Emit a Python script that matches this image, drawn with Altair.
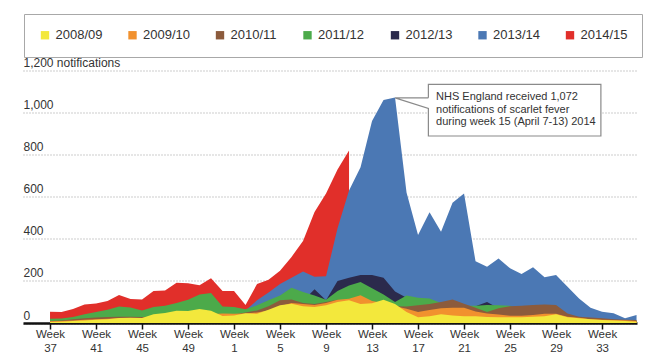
import json
import altair as alt
import pandas as pd

FONT = "Liberation Sans"

seasons = ["2008/09", "2009/10", "2010/11", "2011/12", "2012/13", "2013/14", "2014/15"]
colors = ["#f3e83c", "#f1912e", "#8c5b3c", "#4caa4a", "#2b2a4c", "#4b78b4", "#e12f2a"]
draw_order = ["2014/15", "2013/14", "2012/13", "2011/12", "2010/11", "2009/10", "2008/09"]

# season weeks 37..52, 1..36 (index 0..51)
weeks = list(range(37, 53)) + list(range(1, 37))

s0809 = [5, 6, 10, 12, 15, 18, 24, 25, 24, 42, 47, 58, 57, 66, 58, 33, 36, 46, 44, 63,
         84, 92, 80, 76, 84, 100, 108, 90, 94, 110, 90, 52, 27, 32, 41, 36, 32, 32, 28, 27,
         27, 27, 30, 32, 42, 27, 22, 18, 14, 12, 9, 6]
s0910 = [8, 10, 12, 15, 18, 20, 22, 22, 24, 28, 30, 32, 35, 38, 42, 45, 44, 45, 50, 60,
         80, 95, 90, 85, 95, 110, 115, 132, 105, 95, 80, 68, 52, 62, 70, 72, 72, 55, 45, 40,
         35, 35, 38, 44, 44, 30, 25, 18, 15, 14, 13, 10]
s1011 = [10, 12, 18, 22, 26, 28, 30, 30, 28, 30, 32, 35, 38, 40, 45, 42, 40, 50, 60, 80,
         108, 112, 95, 90, 100, 110, 100, 95, 90, 85, 80, 78, 84, 90, 100, 112, 92, 72, 52, 70,
         80, 82, 86, 88, 86, 45, 30, 26, 22, 18, 16, 14]
s1112 = [20, 21, 28, 42, 52, 63, 78, 74, 60, 76, 82, 95, 111, 136, 143, 78, 76, 65, 84, 108,
         131, 168, 147, 131, 111, 152, 178, 195, 165, 135, 100, 131, 120, 116, 95, 90, 82, 82, 85, 84,
         82, 60, 50, 45, 40, 30, 22, 18, 15, 12, 10, 8]
s1213 = [5, 6, 8, 10, 12, 14, 16, 18, 20, 22, 24, 26, 30, 32, 35, 38, 40, 45, 50, 60,
         75, 90, 105, 160, 108, 200, 215, 228, 228, 215, 150, 120, 95, 85, 80, 75, 75, 80, 100, 70,
         60, 50, 45, 40, 35, 28, 22, 18, 15, 12, 10, 8]
s1314 = [None] * 17 + [60, 108, 145, 185, 215, 245, 220, 222, 450, 630, 740, 960, 1060, 1072,
         620, 418, 526, 434, 572, 616, 293, 267, 307, 260, 233, 265, 217, 228, 172, 117, 73,
         54, 46, 22, 38]
s1415 = [54, 52, 66, 88, 93, 105, 133, 114, 112, 152, 155, 191, 189, 180, 213, 152, 152, 85,
         185, 205, 248, 314, 390, 528, 615, 730, 820] + [None] * 25

series = [s0809, s0910, s1011, s1112, s1213, s1314, s1415]

tick_values = [0, 4, 8, 12, 16, 20, 24, 28, 32, 36, 40, 44, 48]
tick_labels = ["37", "41", "45", "49", "1", "5", "9", "13", "17", "21", "25", "29", "33"]

note_text = "NHS England received 1,072\nnotifications of scarlet fever\nduring week 15 (April 7-13) 2014"
note_box = {"i": 32.9, "i2": 47.9, "value": 1134.4, "value2": 888.7}
note_path_x = [32.9, 32.9, 47.9, 47.9, 32.9, 32.9, 30.0, 32.9]
note_path_y = [1070, 1134.4, 1134.4, 888.7, 888.7, 1020, 1070, 1070]
note_text_pos = {"i": 33.57, "value": 1102}

rows = []
for s, vals in zip(seasons, series):
    for i, v in enumerate(vals):
        if v is not None:
            rows.append({"i": i, "week": weeks[i], "season": s, "value": v})
df = pd.DataFrame(rows)

label_expr = "['Week', " + json.dumps(tick_labels) + "[indexof(" + json.dumps(tick_values) + ", datum.value)]]"

x_enc = alt.X(
    "i:Q",
    scale=alt.Scale(domain=[-2.35, 51.04], nice=False, zero=False),
    axis=alt.Axis(
        title=None, values=tick_values, labelExpr=label_expr, grid=False,
        domain=True, domainColor="#111", domainWidth=2.5,
        ticks=True, tickColor="#111", tickWidth=1.5, tickSize=6,
        labelPadding=-1, labelFontSize=11.5, labelColor="#333", labelFont=FONT,
        labelLineHeight=14, labelOverlap=False, labelFlush=False, labelBaseline="top",
    ),
)
y_enc = alt.Y(
    "value:Q",
    scale=alt.Scale(domain=[0, 1200], nice=False),
    axis=alt.Axis(
        title=None, values=[0, 200, 400, 600, 800, 1000, 1200],
        labelExpr="datum.value == 1200 ? '1,200 notifications' : format(datum.value, ',')",
        grid=True, gridDash=[1, 2], gridColor="#9a9a9a", gridWidth=1,
        domain=False, ticks=False, tickSize=0, labelPadding=0, labelAlign="left",
        labelBaseline="alphabetic", labelOffset=-4, labelFontSize=12, labelColor="#333",
        labelFont=FONT, labelOverlap=False, labelBound=False,
    ),
)
color_enc = alt.Color(
    "season:N",
    scale=alt.Scale(domain=seasons, range=colors),
    legend=alt.Legend(
        orient="none", legendX=1, legendY=-56.5, direction="horizontal", columns=7,
        title=None, symbolType="square", symbolSize=70, symbolStrokeWidth=0,
        labelFontSize=13, labelColor="#333", labelFont=FONT, fillColor="white",
        strokeColor="#a8a8a8", padding=14.5, columnPadding=23.5, gridAlign="all", labelOffset=4,
    ),
)

layers = []
for s in draw_order:
    layers.append(
        alt.Chart(df)
        .transform_filter(alt.datum.season == s)
        .mark_area(opacity=1, interpolate="linear")
        .encode(x=x_enc, y=y_enc, color=color_enc)
    )

box_df = pd.DataFrame([note_box])
box = alt.Chart(box_df).mark_rect(fill="white").encode(
    x=x_enc, x2="i2:Q", y=y_enc, y2="value2:Q"
)
path_df = pd.DataFrame({"i": note_path_x, "value": note_path_y, "o": list(range(len(note_path_x)))})
outline = alt.Chart(path_df).mark_line(color="#8a8a8a", strokeWidth=1.2).encode(
    x=x_enc, y=y_enc, order="o:Q"
)
text_df = pd.DataFrame([{"i": note_text_pos["i"], "value": note_text_pos["value"], "t": note_text}])
text = alt.Chart(text_df).mark_text(
    align="left", baseline="top", lineBreak="\n", fontSize=11, lineHeight=12.5,
    color="#333", font=FONT
).encode(x=x_enc, y=y_enc, text="t:N")

chart = alt.layer(*layers, box, outline, text).properties(
    width=614, height=252.5,
    autosize=alt.AutoSizeParams(type="none"),
    padding={"left": 15, "top": 62.5, "right": 15, "bottom": 31},
    background="white",
).configure_view(stroke=None)

chart.save("out.html", embed_options={"renderer": "svg", "actions": False})
